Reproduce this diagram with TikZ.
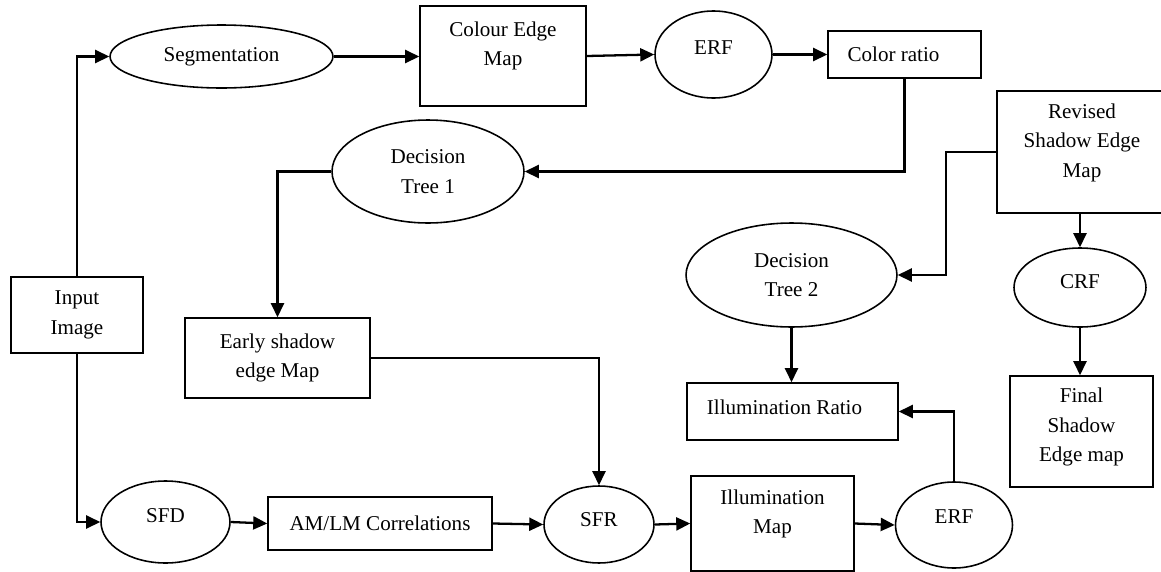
\documentclass[tikz,border=0pt]{standalone}
\usepackage{fontspec}
\setmainfont{Liberation Serif}
\usetikzlibrary{shapes.geometric, arrows.meta}

% extra depth under the last line, lifts the text inside its shape
\newcommand{\vpad}[1]{\rule[-#1]{0pt}{#1}}

\begin{document}
\begin{tikzpicture}[
  x=0.02cm, y=-0.02cm,
  box/.style={rectangle, draw, line width=0.9pt, inner sep=0pt, align=center, font=\fontsize{12}{16.8}\selectfont},
  oval/.style={ellipse, draw, line width=0.9pt, inner sep=0pt, align=center, font=\fontsize{12}{16.8}\selectfont},
  arr/.style={-{Triangle[length=0.28cm, width=0.26cm]}, line width=1.3pt}
]
\useasboundingbox (0,0) rectangle (1161,572);

% top row
\node[box, minimum width=2.64cm, minimum height=1.52cm] (input) at (77,315) {Input\\Image};
\node[oval, minimum width=4.46cm, minimum height=1.26cm] (seg) at (221.5,56.5) {Segmentation};
\node[box, minimum width=3.32cm, minimum height=2cm] (cem) at (503,56) {Colour Edge\\Map\vpad{0.5cm}};
\node[oval, minimum width=2.34cm, minimum height=1.74cm] (erf1) at (713.5,54.5) {ERF\vpad{0.26cm}};
\node[box, minimum width=3.06cm, minimum height=0.94cm] (cratio) at (904.5,54.5) {Color ratio\kern0.44cm};
\node[oval, minimum width=3.84cm, minimum height=2.06cm] (dt1) at (428,171.5) {Decision\\Tree 1};
\node[box, minimum width=3.7cm, minimum height=1.6cm] (early) at (277.5,358) {Early shadow\\edge Map};

% bottom row
\node[oval, minimum width=2.58cm, minimum height=1.64cm] (sfd) at (165.5,522) {SFD\vpad{0.24cm}};
\node[box, minimum width=4.48cm, minimum height=1.06cm] (amlm) at (380,523.5) {AM/LM Correlations};
\node[oval, minimum width=2.2cm, minimum height=1.54cm] (sfr) at (599,524.5) {SFR\vpad{0.2cm}};
\node[box, minimum width=3.26cm, minimum height=1.9cm] (imap) at (772.5,523.5) {Illumination\\Map\vpad{0.47cm}};
\node[oval, minimum width=2.34cm, minimum height=1.72cm] (erf2) at (954,525) {ERF\vpad{0.32cm}};

% right part
\node[box, minimum width=4.22cm, minimum height=1.14cm] (iratio) at (792.5,411.5) {Illumination Ratio\vpad{0.18cm}\kern0.32cm};
\node[oval, minimum width=4.22cm, minimum height=2.08cm] (dt2) at (791.5,275) {Decision\\Tree 2};
\node[box, minimum width=3.4cm, minimum height=2.44cm] (rsem) at (1082,152) {Revised\\Shadow Edge\\Map\vpad{0.47cm}};
\node[oval, minimum width=2.64cm, minimum height=1.58cm] (crf) at (1080,287.5) {CRF\vpad{0.22cm}};
\node[box, minimum width=2.86cm, minimum height=2.22cm] (final) at (1081.5,431.5) {Final\\Shadow\\Edge map\vpad{0.27cm}};

\draw[arr] (input.north) |- (seg.west);
\draw[arr] (seg.east) -- (seg.east -| cem.west);
\draw[arr] (cem.east) -- (erf1.west);
\draw[arr] (erf1.east) -- (cratio.west);
\draw[arr] (cratio.south) |- (dt1.east);
\draw[arr] (dt1.west) -| (early.north);
\draw[arr] (early.east) -| (sfr.north);
\draw[arr] (input.south) |- (sfd.west);
\draw[arr] (sfd.east) -- (amlm.west);
\draw[arr] (amlm.east) -- (sfr.west);
\draw[arr] (sfr.east) -- (imap.west);
\draw[arr] (imap.east) -- (erf2.west);
\draw[arr] (erf2.north) |- (iratio.east);
\draw[arr] (dt2.south) -- (dt2.south |- iratio.north);
\draw[arr] (rsem.west) -- ++(-50,0) |- (dt2.east);
\draw[arr] (rsem.south -| crf.north) -- (crf.north);
\draw[arr] (crf.south) -- (crf.south |- final.north);

\end{tikzpicture}
\end{document}
